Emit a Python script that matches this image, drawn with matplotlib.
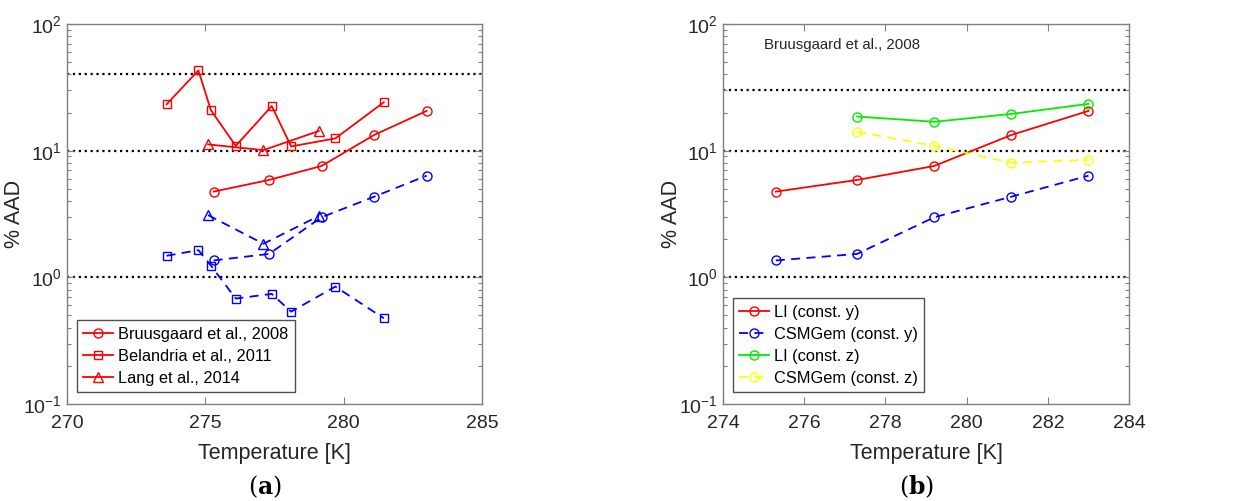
import matplotlib
matplotlib.use("Agg")
import matplotlib.pyplot as plt
from matplotlib.ticker import LogLocator, NullFormatter

plt.rcParams['font.family'] = ['Liberation Sans', 'DejaVu Sans']
plt.rcParams['mathtext.fontset'] = 'custom'
plt.rcParams['mathtext.rm'] = 'Liberation Sans'

# ---- Panel (a) data ----
bru_T = [275.3, 277.3, 279.2, 281.1, 283.0]
bru_LI = [4.75, 5.87, 7.57, 13.3, 20.6]
bru_CSM = [1.36, 1.53, 2.98, 4.33, 6.35]

bel_T = [273.6, 274.75, 275.2, 276.1, 277.4, 278.1, 279.7, 281.45]
bel_LI = [23.2, 43.0, 20.9, 10.9, 22.5, 10.8, 12.5, 24.1]
bel_CSM = [1.48, 1.64, 1.24, 0.68, 0.74, 0.536, 0.845, 0.475]

lang_T = [275.1, 277.1, 279.1]
lang_LI = [11.2, 10.1, 14.3]
lang_CSM = [3.1, 1.84, 3.05]

ref_a = [40, 10, 1]

# ---- Panel (b) data ----
b_T = [275.3, 277.3, 279.2, 281.1, 283.0]
b_LI_y = [4.75, 5.87, 7.57, 13.3, 20.6]
b_CSM_y = [1.36, 1.53, 2.98, 4.33, 6.35]
bz_T = [277.3, 279.2, 281.1, 283.0]
b_LI_z = [18.6, 16.9, 19.5, 23.4]
b_CSM_z = [14.1, 10.9, 8.04, 8.45]

ref_b = [30, 10, 1]

fig = plt.figure(figsize=(12.54, 5.01), dpi=100)
axa = fig.add_axes([0.0534, 0.1936, 0.331, 0.7585])
axb = fig.add_axes([0.5766, 0.1936, 0.3238, 0.7585])

lw = 1.3
ms = 6.5
msq = 5.5
dsh = (5, 3.5)

# panel a
for r in ref_a:
    axa.axhline(r, color='black', ls=':', lw=1.6, zorder=1)
axa.plot(bru_T, bru_LI, '-', color='red', marker='o', mfc='none', ms=ms, lw=lw, label='Bruusgaard et al., 2008')
axa.plot(bel_T, bel_LI, '-', color='red', marker='s', mfc='none', ms=msq, lw=lw, label='Belandria et al., 2011')
axa.plot(lang_T, lang_LI, '-', color='red', marker='^', mfc='none', ms=ms, lw=lw, label='Lang et al., 2014')
axa.plot(bru_T, bru_CSM, '--', color='blue', marker='o', mfc='none', ms=ms, lw=lw, dashes=dsh)
axa.plot(bel_T, bel_CSM, '--', color='blue', marker='s', mfc='none', ms=msq, lw=lw, dashes=dsh)
axa.plot(lang_T, lang_CSM, '--', color='blue', marker='^', mfc='none', ms=ms, lw=lw, dashes=dsh)
axa.set_xlim(270, 285)
axa.set_xticks([270, 275, 280, 285])

# panel b
for r in ref_b:
    axb.axhline(r, color='black', ls=':', lw=1.6, zorder=1)
axb.plot(b_T, b_LI_y, '-', color='red', marker='o', mfc='none', ms=ms, lw=lw, label='LI (const. y)')
axb.plot(b_T, b_CSM_y, '--', color='blue', marker='o', mfc='none', ms=ms, lw=lw, dashes=dsh, label='CSMGem (const. y)')
axb.plot(bz_T, b_LI_z, '-', color='#00ee00', marker='o', mfc='none', ms=ms, lw=lw, label='LI (const. z)')
axb.plot(bz_T, b_CSM_z, '--', color='#ffff00', marker='o', mfc='none', ms=ms, lw=lw, dashes=dsh, label='CSMGem (const. z)')
axb.set_xlim(274, 284)
axb.set_xticks([274, 276, 278, 280, 282, 284])
axb.text(0.10, 0.945, 'Bruusgaard et al., 2008', transform=axb.transAxes,
         fontsize=10.8, color='#262626', va='center', ha='left')

for ax in (axa, axb):
    ax.set_yscale('log')
    ax.set_ylim(0.1, 100)
    ax.yaxis.set_major_locator(LogLocator(base=10, numticks=10))
    ax.yaxis.set_minor_locator(LogLocator(base=10, subs=range(2, 10), numticks=20))
    ax.yaxis.set_minor_formatter(NullFormatter())
    ax.tick_params(axis='both', which='both', direction='in', top=True, right=True,
                   colors='#808080', labelcolor='#262626', labelsize=14)
    ax.tick_params(axis='x', which='major', pad=8)
    ax.tick_params(which='major', length=5, width=0.8)
    ax.tick_params(which='minor', length=3, width=0.8)
    for s in ax.spines.values():
        s.set_color('#808080')
        s.set_linewidth(1.0)
    ax.set_xlabel('Temperature [K]', fontsize=15.5, color='#262626', labelpad=8)
    ax.set_ylabel('% AAD', fontsize=15.5, color='#262626')
    leg = ax.legend(loc='lower left', bbox_to_anchor=(0.012, 0.018), fontsize=11.8,
                    frameon=True, fancybox=False, edgecolor='#262626',
                    handlelength=1.8, handletextpad=0.3, borderpad=0.4,
                    labelspacing=0.42, borderaxespad=0.3)
    leg.get_frame().set_linewidth(1.0)

axa.yaxis.set_label_coords(-0.101, 0.5)
axb.yaxis.set_label_coords(-0.101, 0.5)

fig.text(0.2115, 0.028, r'($\mathbf{a}$)', ha='center', va='center', fontsize=17,
         family=['DejaVu Serif'], math_fontfamily='dejavuserif')
fig.text(0.7313, 0.028, r'($\mathbf{b}$)', ha='center', va='center', fontsize=17,
         family=['DejaVu Serif'], math_fontfamily='dejavuserif')

fig.savefig('out.png', dpi=100)
